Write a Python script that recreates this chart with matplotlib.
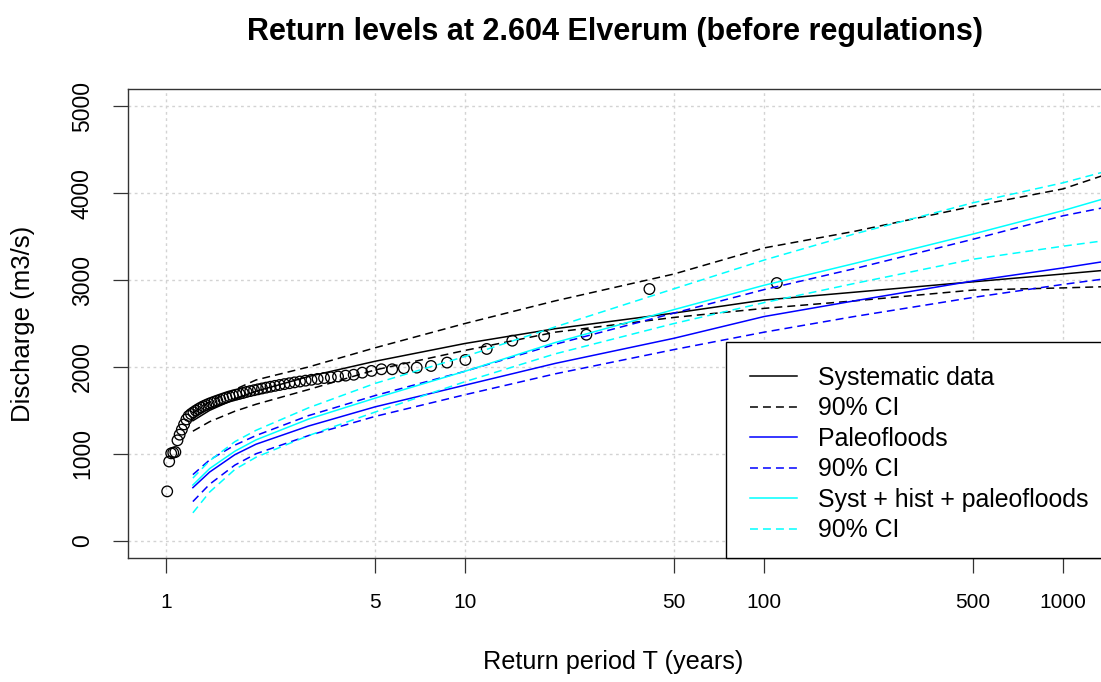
import numpy as np
import matplotlib.pyplot as plt
from matplotlib.patches import Rectangle

plt.rcParams['font.family'] = ['Liberation Sans', 'DejaVu Sans']

# Annual maximum discharges (m3/s), sorted from largest to smallest
q_obs = [2966, 2897, 2371, 2356, 2302, 2207, 2080, 2050, 2011, 1992,
         1985, 1973, 1973, 1954, 1934, 1910, 1900, 1890, 1880, 1872,
         1862, 1852, 1842, 1832, 1822, 1812, 1802, 1792, 1782, 1772,
         1762, 1752, 1742, 1732, 1722, 1712, 1700, 1690, 1680, 1670,
         1660, 1648, 1636, 1624, 1612, 1600, 1588, 1576, 1562, 1548,
         1532, 1515, 1497, 1478, 1458, 1435, 1395, 1338, 1278, 1220,
         1155, 1020, 1012, 1005, 911, 567]

# Return periods where the fitted curves were read
T_fit = [1.23, 1.4, 1.7, 2, 3, 5, 10, 20, 50, 100, 200, 500, 1000, 1350]

syst     = [1380, 1500, 1630, 1720, 1890, 2065, 2270, 2440, 2620, 2770, 2860, 2980, 3070, 3110]
syst_lo  = [1260, 1370, 1490, 1570, 1740, 1965, 2190, 2400, 2570, 2674, 2760, 2885, 2910, 2923]
syst_hi  = [1470, 1600, 1740, 1850, 2000, 2220, 2500, 2760, 3070, 3370, 3560, 3850, 4050, 4200]

paleo    = [610, 790, 990, 1110, 1320, 1540, 1790, 2040, 2330, 2580, 2760, 2990, 3140, 3210]
paleo_lo = [450, 650, 870, 1000, 1210, 1430, 1680, 1920, 2200, 2400, 2580, 2800, 2950, 3010]
paleo_hi = [760, 930, 1100, 1210, 1440, 1670, 1950, 2260, 2620, 2890, 3130, 3470, 3740, 3830]

all_    = [640, 830, 1030, 1160, 1400, 1640, 1950, 2280, 2660, 2940, 3190, 3530, 3800, 3930]
all_lo  = [320, 560, 820, 960, 1210, 1480, 1830, 2150, 2500, 2740, 2960, 3240, 3390, 3450]
all_hi  = [720, 920, 1140, 1270, 1530, 1810, 2120, 2460, 2900, 3230, 3530, 3890, 4120, 4240]

x_ticks = [1, 5, 10, 50, 100, 500, 1000]
y_ticks = [0, 1000, 2000, 3000, 4000, 5000]

# Cunnane plotting positions
n = len(q_obs)
rank = np.arange(1, n + 1)
T_obs = (n + 0.2) / (rank - 0.4)

fig = plt.figure(figsize=(11.01, 6.82), dpi=100)
ax = fig.add_axes([128 / 1101, 1 - 558 / 682, 974 / 1101, 469 / 682])

ax.set_xscale('log')
ax.set_xlim(0.7463, 1350)
ax.set_ylim(-200, 5200)
ax.set_xticks(x_ticks)
ax.set_xticklabels([str(t) for t in x_ticks])
ax.xaxis.set_minor_locator(plt.NullLocator())
ax.set_yticks(y_ticks)
ax.set_yticklabels([str(v) for v in y_ticks], rotation=90, va='center')
ax.tick_params(axis='both', length=10.5, width=0.9, color='#333333')
ax.tick_params(axis='x', pad=15, labelsize=15)
ax.tick_params(axis='y', pad=14, labelsize=16.5)
for s in ax.spines.values():
    s.set_color('#333333')
    s.set_linewidth(1.0)

ax.grid(True, color='#D3D3D3', linestyle=(0, (2, 2.5)), linewidth=1.0)
ax.set_axisbelow(True)

ax.scatter(T_obs, q_obs, s=58, facecolors='none', edgecolors='black',
           linewidths=0.95, zorder=3)

dash = (0, (5.2, 3.3))
lw = 1.1
ax.plot(T_fit, syst, color='black', lw=lw, label='Systematic data', zorder=4)
ax.plot(T_fit, syst_lo, color='black', lw=lw, ls=dash, label='90% CI', zorder=4)
ax.plot(T_fit, syst_hi, color='black', lw=lw, ls=dash, zorder=4)
ax.plot(T_fit, paleo, color='blue', lw=lw, label='Paleofloods', zorder=4)
ax.plot(T_fit, paleo_lo, color='blue', lw=lw, ls=dash, label='90% CI', zorder=4)
ax.plot(T_fit, paleo_hi, color='blue', lw=lw, ls=dash, zorder=4)
ax.plot(T_fit, all_, color='cyan', lw=lw, label='Syst + hist + paleofloods', zorder=4)
ax.plot(T_fit, all_lo, color='cyan', lw=lw, ls=dash, label='90% CI', zorder=4)
ax.plot(T_fit, all_hi, color='cyan', lw=lw, ls=dash, zorder=4)

# legend box (R style, bottom right)
ax.add_patch(Rectangle(((726 - 128) / 974, 0), 0.45, (558 - 342) / 469,
                       transform=ax.transAxes, facecolor='white',
                       edgecolor='black', lw=1.0, zorder=5, clip_on=False))
handles, labels = ax.get_legend_handles_labels()
leg = ax.legend(handles, labels, loc='upper left',
                bbox_to_anchor=((750 - 128) / 974, (558 - 366) / 469),
                frameon=False, fontsize=17.9, borderpad=0, borderaxespad=0,
                handlelength=1.88, handletextpad=0.87, labelspacing=0.26)
leg.set_zorder(6)

ax.set_xlabel('Return period T (years)', fontsize=18.2)
ax.xaxis.set_label_coords(0.498, (558 - 662) / 469)
ax.xaxis.label.set_va('center')
ax.set_ylabel('Discharge (m3/s)', fontsize=18.5)
ax.yaxis.set_label_coords((23 - 128) / 974, 0.5)
ax.yaxis.label.set_va('center')

ax.set_title('Return levels at 2.604 Elverum (before regulations)',
             fontsize=22, fontweight='bold', y=(558 - 40) / 469, va='center')

plt.savefig('out.png', dpi=100)
